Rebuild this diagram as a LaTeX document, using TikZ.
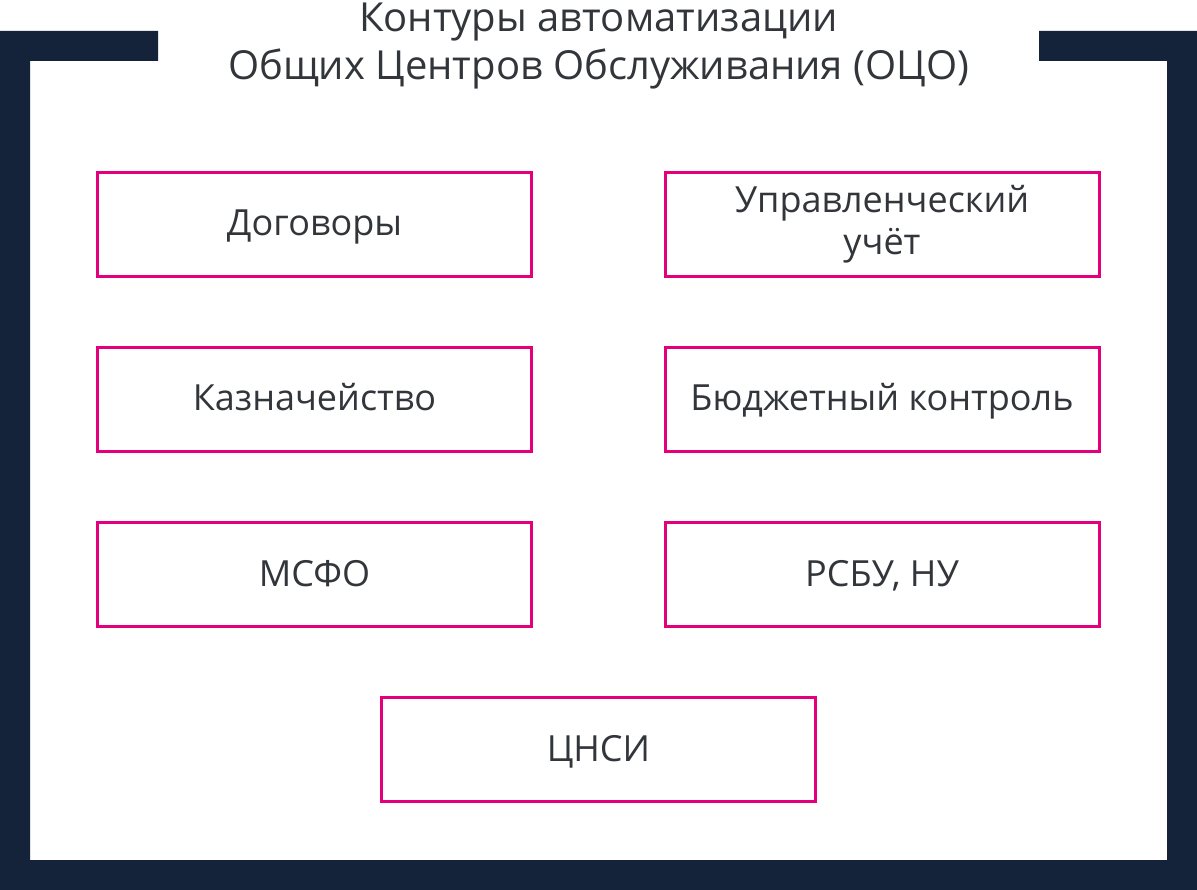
\documentclass[tikz,border=0pt]{standalone}
\usepackage{fontspec}
\setmainfont{Open Sans}
\definecolor{framenavy}{RGB}{21,35,58}
\definecolor{boxpink}{RGB}{228,0,125}
\definecolor{textgrey}{RGB}{50,53,58}
\tikzset{every picture/.style={line width=0.75pt}}
\tikzset{
  contour/.style={draw=boxpink, line width=3pt, minimum width=434pt, minimum height=104pt,
    inner sep=0pt, align=center, text=textgrey, font=\fontsize{36}{42}\selectfont},
  oneline/.style={contour, text height=23pt, text depth=0pt},
  caption/.style={anchor=base, text=textgrey, inner sep=0pt, font=\fontsize{40}{46}\selectfont}
}
\begin{document}
\begin{tikzpicture}[x=1pt,y=1pt,yscale=-1,xscale=1]
\useasboundingbox (0,0) rectangle (1197,890);

% frame
\fill [framenavy] (0,31) -- (158,31) -- (158,61) -- (30,61) -- (30,860) -- (1167,860)
  -- (1167,61) -- (1039,61) -- (1039,31) -- (1197,31) -- (1197,890) -- (0,890) -- cycle;

% Text Node
\node [caption] (title) at (598.5,32) {Контуры автоматизации};
\node [caption] (subtitle) at (598.5,80) {Общих Центров Обслуживания (ОЦО)};

% boxes
\node [oneline] (contracts) at (314.5,224.5) {Договоры};
\node [contour] (mgmt) at (882,224.5) {Управленческий\\учёт};
\node [oneline] (treasury) at (314.5,399.5) {Казначейство};
\node [oneline] (budget) at (882,399.5) {Бюджетный контроль};
\node [oneline] (ifrs) at (314.5,574.5) {МСФО};
\node [oneline] (ras) at (882,574.5) {РСБУ, НУ};
\node [oneline] (nsi) at (598.5,749.5) {ЦНСИ};

\end{tikzpicture}
\end{document}
